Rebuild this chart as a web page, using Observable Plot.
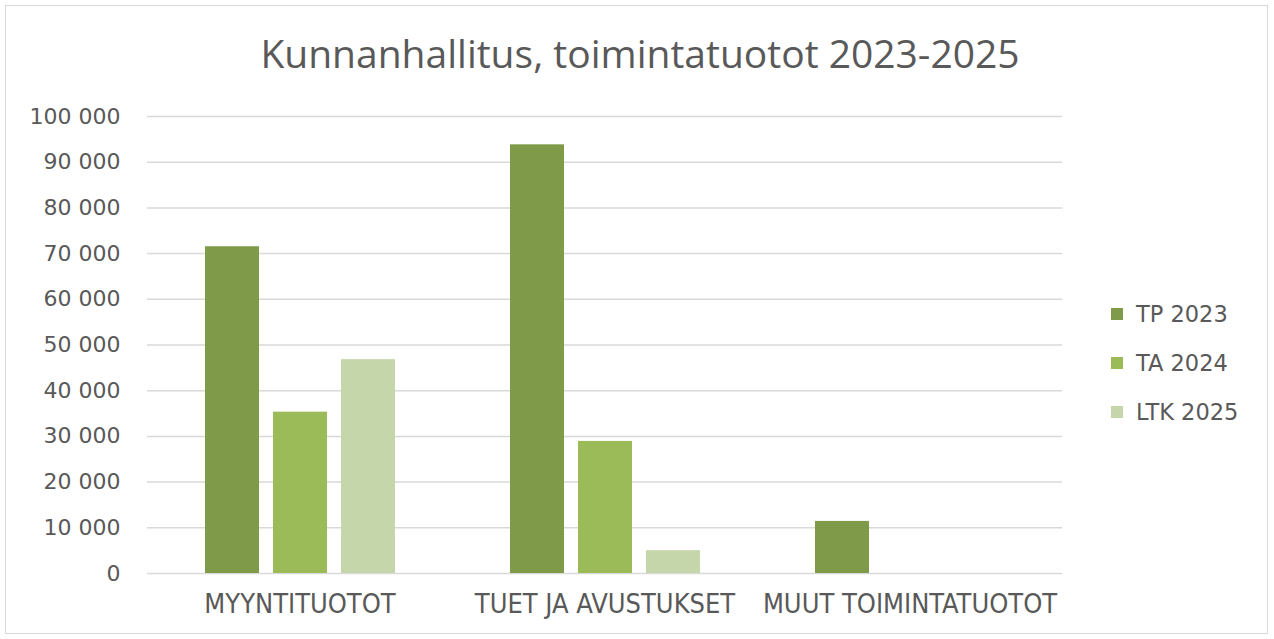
<!DOCTYPE html>
<html>
<head>
<meta charset="utf-8">
<script src="https://cdn.jsdelivr.net/npm/d3@7"></script>
<script src="https://cdn.jsdelivr.net/npm/@observablehq/plot@0.6"></script>
<style>
  html, body { margin: 0; padding: 0; background: #fff; }
  #frame { position: absolute; left: 5px; top: 5px; width: 1263px; height: 629px; border: 1px solid #d9d9d9; box-sizing: border-box; }
  #title { position: absolute; left: 0; top: 26px; width: 1280px; text-align: center; font-family: "Open Sans", sans-serif; font-size: 39px; color: #595959; }
  #chart { position: absolute; left: 0; top: 0; }
  #legend { position: absolute; left: 1111px; top: 289px; font-family: "DejaVu Sans", sans-serif; font-size: 22.5px; color: #595959; }
  .item { display: flex; align-items: center; height: 49px; }
  .sw { width: 12px; height: 12px; margin-right: 13px; }
</style>
</head>
<body>
<div id="frame"></div>
<div id="title">Kunnanhallitus, toimintatuotot 2023-2025</div>
<div id="chart"></div>
<div id="legend"></div>
<script>
const categories = ["MYYNTITUOTOT", "TUET JA AVUSTUKSET", "MUUT TOIMINTATUOTOT"];
const series = ["TP 2023", "TA 2024", "LTK 2025"];
const colors = ["#7f9a48", "#9bbb59", "#c6d6ab"];
const tp2023 = [71500, 93800, 11400];
const ta2024 = [35300, 28900, 0];
const ltk2025 = [46800, 5000, 0];
const yTicks = [0, 10000, 20000, 30000, 40000, 50000, 60000, 70000, 80000, 90000, 100000];

const valuesBySeries = [tp2023, ta2024, ltk2025];
const data = [];
categories.forEach((c, i) => series.forEach((s, j) => data.push({cat: c, series: s, value: valuesBySeries[j][i]})));

const fmt = d => d3.format(",")(d).replace(/,/g, " ");

const chart = Plot.plot({
  width: 1080,
  height: 639,
  marginLeft: 147,
  marginRight: 18,
  marginTop: 116,
  marginBottom: 66,
  style: { fontFamily: "DejaVu Sans, sans-serif", fontSize: "22px", color: "#595959", background: "transparent" },
  fx: { domain: categories, padding: 0, label: null },
  x: { domain: series, paddingInner: 0.206, paddingOuter: 0.845, axis: null },
  y: { domain: [0, 100000], ticks: yTicks, label: null },
  color: { domain: series, range: colors },
  marks: [
    Plot.gridY(yTicks, { stroke: "#d9d9d9", strokeOpacity: 1, strokeWidth: 1.5 }),
    Plot.axisY(yTicks, { tickSize: 0, tickPadding: 27, tickFormat: fmt, fill: "#595959", label: null }),
    Plot.axisFx({ anchor: "bottom", tickSize: 0, tickPadding: 20, fill: "#595959", fontSize: 27, label: null, fontFamily: "Liberation Sans Narrow, DejaVu Sans Condensed, sans-serif" }),
    Plot.barY(data, { fx: "cat", x: "series", y: "value", fill: "series" })
  ]
});
document.getElementById("chart").appendChild(chart);

const legend = document.getElementById("legend");
series.forEach((s, i) => {
  const it = document.createElement("div");
  it.className = "item";
  it.innerHTML = `<div class="sw" style="background:${colors[i]}"></div><span>${s}</span>`;
  legend.appendChild(it);
});
</script>
</body>
</html>
